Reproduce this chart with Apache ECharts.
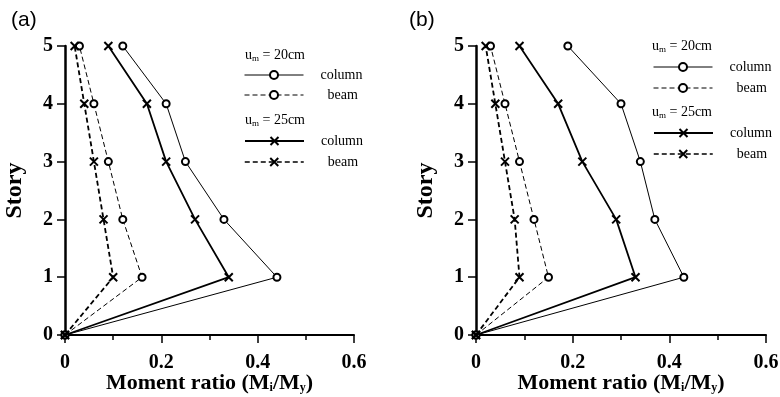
<!DOCTYPE html>
<html>
<head>
<meta charset="utf-8">
<script src="https://cdn.jsdelivr.net/npm/echarts@6/dist/echarts.min.js"></script>
<style>
  html, body { margin: 0; padding: 0; background: #fff; }
  #chart { width: 780px; height: 397px; }
</style>
</head>
<body>
<div id="chart"></div>
<script>
var stories = [0, 1, 2, 3, 4, 5];
var xTicks = [0, 0.2, 0.4, 0.6];

// panel (a)
var aCol20 = [0, 0.44, 0.33, 0.25, 0.21, 0.12];
var aBeam20 = [0, 0.16, 0.12, 0.09, 0.06, 0.03];
var aCol25 = [0, 0.34, 0.27, 0.21, 0.17, 0.09];
var aBeam25 = [0, 0.10, 0.08, 0.06, 0.04, 0.02];

// panel (b)
var bCol20 = [0, 0.43, 0.37, 0.34, 0.30, 0.19];
var bBeam20 = [0, 0.15, 0.12, 0.09, 0.06, 0.03];
var bCol25 = [0, 0.33, 0.29, 0.22, 0.17, 0.09];
var bBeam25 = [0, 0.09, 0.08, 0.06, 0.04, 0.02];

var serif = '"Liberation Serif", "Times New Roman", serif';
var cross = 'path://M0,0L10,10M10,0L0,10';

function pairs(vals) {
  return vals.map(function (v, i) { return [v, stories[i]]; });
}

function xAxis(idx) {
  return {
    type: 'value', gridIndex: idx, min: 0, max: 0.6, interval: 0.2,
    axisLine: { lineStyle: { color: '#000', width: 2 } },
    axisTick: { length: 8, lineStyle: { color: '#000', width: 1.5 } },
    minorTick: { show: true, splitNumber: 2, length: 5, lineStyle: { color: '#000', width: 1.5 } },
    splitLine: { show: false },
    axisLabel: {
      fontFamily: serif, fontWeight: 'bold', fontSize: 20, color: '#000', margin: 18,
      formatter: function (v) { return xTicks.indexOf(+v.toFixed(1)) >= 0 ? String(+v.toFixed(1)) : ''; }
    },
    name: '{t|Moment ratio (M}{s|i}{t|/M}{s|y}{t|)}',
    nameLocation: 'middle', nameGap: 37, nameMoveOverlap: false,
    nameTextStyle: {
      rich: {
        t: { fontFamily: serif, fontWeight: 'bold', fontSize: 22, color: '#000' },
        s: { fontFamily: serif, fontWeight: 'bold', fontSize: 12, color: '#000', padding: [10, 0, 0, 0] }
      }
    }
  };
}

function yAxis(idx) {
  return {
    type: 'value', gridIndex: idx, min: 0, max: 5, interval: 1,
    axisLine: { lineStyle: { color: '#000', width: 2.5 } },
    axisTick: { length: 8, lineStyle: { color: '#000', width: 1.5 } },
    splitLine: { show: false },
    axisLabel: { fontFamily: serif, fontWeight: 'bold', fontSize: 20, color: '#000', margin: 12 },
    name: 'Story', nameLocation: 'middle', nameGap: 38, nameRotate: 90, nameMoveOverlap: false,
    nameTextStyle: { fontFamily: serif, fontWeight: 'bold', fontSize: 24, color: '#000' }
  };
}

function line(name, vals, idx, isCol, is25) {
  return {
    name: name, type: 'line', xAxisIndex: idx, yAxisIndex: idx,
    data: pairs(vals),
    symbol: is25 ? cross : 'emptyCircle',
    symbolSize: is25 ? 8 : 7,
    itemStyle: is25 ? { color: '#000', borderColor: '#000', borderWidth: 2 } : { color: '#000', borderWidth: 1 },
    lineStyle: { color: '#000', width: is25 ? 1.8 : 1, type: isCol ? 'solid' : [5, 3] },
    animation: false, z: is25 ? 3 : 2
  };
}

function legend(name, left, top, label, pad, width) {
  return {
    data: [name], left: left, top: top, padding: 0, orient: 'vertical',
    itemWidth: 59, itemHeight: 10, selectedMode: false,
    lineStyle: { width: width },
    formatter: function () { return label; },
    textStyle: { fontFamily: serif, fontSize: 14, color: '#000', padding: [0, 0, 0, pad] }
  };
}

function heading(left, top, text) {
  return {
    type: 'text', left: left, top: top,
    style: {
      text: '{u|u}{s|m}{u| = ' + text + '}',
      rich: {
        u: { fontFamily: serif, fontSize: 14, fill: '#000' },
        s: { fontFamily: serif, fontSize: 9, fill: '#000', padding: [7, 0, 0, 0] }
      }
    }
  };
}

var chart = echarts.init(document.getElementById('chart'), null, { renderer: 'canvas' });
chart.setOption({
  animation: false,
  backgroundColor: '#fff',
  title: [
    { text: '(a)', left: 6, top: 5, textStyle: { fontFamily: '"Liberation Sans", Arial, sans-serif', fontWeight: 'normal', fontSize: 21, color: '#000' } },
    { text: '(b)', left: 404, top: 5, textStyle: { fontFamily: '"Liberation Sans", Arial, sans-serif', fontWeight: 'normal', fontSize: 21, color: '#000' } }
  ],
  grid: [
    { left: 65, right: 426, top: 46, bottom: 62, outerBoundsMode: 'none' },
    { left: 476, right: 14, top: 46, bottom: 62, outerBoundsMode: 'none' }
  ],
  xAxis: [xAxis(0), xAxis(1)],
  yAxis: [yAxis(0), yAxis(1)],
  legend: [
    legend('a-col20', 244, 68, 'column', 12, 1),
    legend('a-beam20', 244, 88, 'beam', 19, 1),
    legend('a-col25', 244, 134, 'column', 12, 2),
    legend('a-beam25', 244, 155, 'beam', 19, 1.5),
    legend('b-col20', 653, 60, 'column', 12, 1),
    legend('b-beam20', 653, 81, 'beam', 19, 1),
    legend('b-col25', 653, 126, 'column', 12, 2),
    legend('b-beam25', 653, 147, 'beam', 19, 1.5)
  ],
  graphic: [
    heading(245, 48, '20cm'),
    heading(245, 113, '25cm'),
    heading(652, 39, '20cm'),
    heading(652, 105, '25cm')
  ],
  series: [
    line('a-col20', aCol20, 0, true, false),
    line('a-beam20', aBeam20, 0, false, false),
    line('a-col25', aCol25, 0, true, true),
    line('a-beam25', aBeam25, 0, false, true),
    line('b-col20', bCol20, 1, true, false),
    line('b-beam20', bBeam20, 1, false, false),
    line('b-col25', bCol25, 1, true, true),
    line('b-beam25', bBeam25, 1, false, true)
  ]
});
</script>
</body>
</html>
